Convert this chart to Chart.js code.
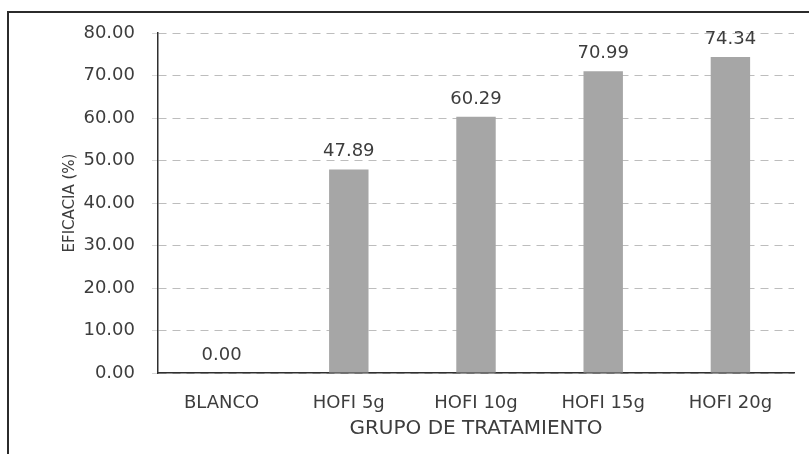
<!DOCTYPE html>
<html>
<head>
<meta charset="utf-8">
<script src="https://cdn.jsdelivr.net/npm/chart.js@4/dist/chart.umd.min.js"></script>
<style>
    html, body { margin: 0; padding: 0; background: #fff; overflow: hidden; }
    #wrap { position: relative; width: 809px; height: 454px; }
    #frame { position: absolute; left: 7px; top: 11px; width: 900px; height: 600px; border: 2px solid #2b2b2b; box-sizing: border-box; }
    canvas { position: absolute; left: 0; top: 0; }
</style>
</head>
<body>
<div id="wrap">
    <div id="frame"></div>
    <canvas id="chart" width="809" height="454"></canvas>
</div>
<script>
// ============================
// Data
// ============================
const categories = ["BLANCO", "HOFI 5g", "HOFI 10g", "HOFI 15g", "HOFI 20g"];
const eficacia = [0.00, 47.89, 60.29, 70.99, 74.34];
const yTicks = [0, 10, 20, 30, 40, 50, 60, 70, 80];

const TEXT = "#3d3d3d";
const FONT = "'DejaVu Sans', Verdana, sans-serif";

// labels above bars, positioned from the bar elements
const barLabels = {
    id: "barLabels",
    afterDatasetsDraw(chart) {
        const ctx = chart.ctx;
        const meta = chart.getDatasetMeta(0);
        ctx.save();
        ctx.font = `18px ${FONT}`;
        ctx.fillStyle = TEXT;
        ctx.textAlign = "center";
        ctx.textBaseline = "alphabetic";
        meta.data.forEach((bar, i) => {
            ctx.fillText(eficacia[i].toFixed(2), bar.x, bar.y - 13);
        });
        ctx.restore();
    }
};

new Chart(document.getElementById("chart"), {
    type: "bar",
    data: {
        labels: categories,
        datasets: [{
            data: eficacia,
            backgroundColor: "#a6a6a6",
            borderWidth: 0,
            barPercentage: 0.31,
            categoryPercentage: 1
        }]
    },
    options: {
        responsive: false,
        animation: false,
        layout: { padding: { top: 33, right: 15, bottom: 0, left: 0 } },
        plugins: { legend: { display: false }, tooltip: { enabled: false } },
        scales: {
            x: {
                grid: { display: false },
                border: { display: true, color: "#2f2f2f", width: 1.5 },
                ticks: { color: TEXT, font: { family: FONT, size: 18 }, padding: 12, maxRotation: 0 },
                title: {
                    display: true, text: "GRUPO DE TRATAMIENTO", color: TEXT,
                    font: { family: FONT, size: 20 }, padding: { top: 0, bottom: 13 }
                },
                afterFit: s => { s.height = 81; }
            },
            y: {
                min: 0, max: 80,
                afterBuildTicks: s => { s.ticks = yTicks.map(v => ({ value: v })); },
                grid: {
                    color: "#bdbdbd", lineWidth: 1,
                    drawTicks: true, tickLength: 6, tickColor: "#d8d8d8"
                },
                border: { display: true, color: "#2f2f2f", width: 1.5, dash: [8, 6] },
                ticks: {
                    color: TEXT, font: { family: FONT, size: 18 }, padding: 17,
                    callback: v => Number(v).toFixed(2)
                },
                title: {
                    display: true, text: "EFICACIA (%)", color: TEXT,
                    font: { family: FONT, size: 15 }, padding: { top: 61, bottom: 0 }
                },
                afterFit: s => { s.width = 158; }
            }
        }
    },
    plugins: [barLabels]
});
</script>
</body>
</html>
